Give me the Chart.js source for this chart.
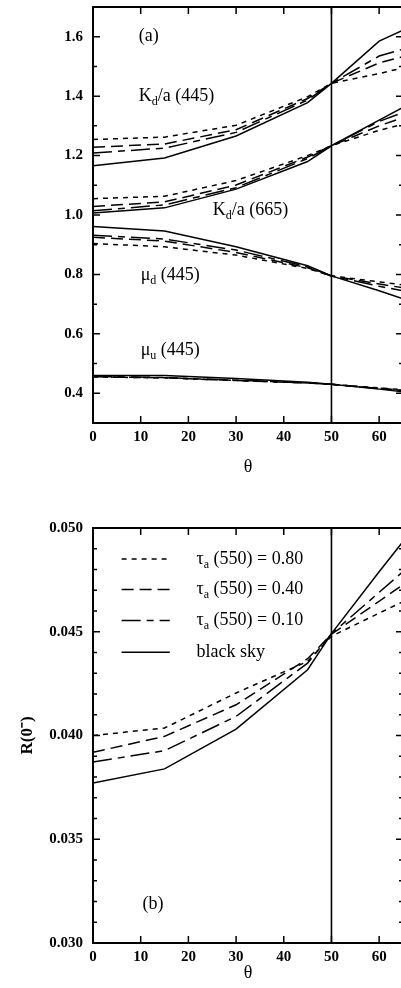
<!DOCTYPE html>
<html>
<head>
<meta charset="utf-8">
<script src="https://cdn.jsdelivr.net/npm/chart.js@4"></script>
<style>
  html, body { margin: 0; padding: 0; background: #fff; overflow: hidden; }
  .panel { position: absolute; left: 0; }
  #panel-a { top: 0; }
  #panel-b { top: 490px; }
</style>
</head>
<body>
<div class="panel" id="panel-a"><canvas id="chart-a" width="420" height="490"></canvas></div>
<div class="panel" id="panel-b"><canvas id="chart-b" width="420" height="498"></canvas></div>
<script>
// --- DATA ---
const ANGLES = [0, 15, 30, 45, 50, 60, 65];          // solar zenith angle θ (deg)
const REF_ANGLE = 50;                                // vertical marker
const TAU_VALUES = ['0.80', '0.40', '0.10'];         // τa(550); fourth case is black sky

// (a) K_d/a at 445 nm
const kd445Tau80 = [1.254, 1.262, 1.302, 1.398, 1.443, 1.476, 1.495];
const kd445Tau40 = [1.228, 1.239, 1.287, 1.392, 1.443, 1.512, 1.533];
const kd445Tau10 = [1.209, 1.225, 1.278, 1.387, 1.443, 1.535, 1.558];
const kd445Black = [1.166, 1.192, 1.266, 1.378, 1.443, 1.585, 1.622];

// (a) K_d/a at 665 nm
const kd665Tau80 = [1.055, 1.063, 1.116, 1.200, 1.233, 1.285, 1.305];
const kd665Tau40 = [1.029, 1.044, 1.101, 1.195, 1.233, 1.300, 1.328];
const kd665Tau10 = [1.014, 1.034, 1.092, 1.190, 1.233, 1.315, 1.345];
const kd665Black = [1.007, 1.024, 1.087, 1.180, 1.233, 1.319, 1.362];

// (a) mu_d at 445 nm
const mud445Tau80 = [0.904, 0.893, 0.865, 0.820, 0.795, 0.775, 0.765];
const mud445Tau40 = [0.925, 0.912, 0.874, 0.822, 0.795, 0.768, 0.755];
const mud445Tau10 = [0.932, 0.919, 0.882, 0.826, 0.795, 0.760, 0.745];
const mud445Black = [0.961, 0.946, 0.893, 0.829, 0.795, 0.745, 0.718];

// (a) mu_u at 445 nm
const muu445Tau80 = [0.455, 0.452, 0.443, 0.435, 0.430, 0.418, 0.412];
const muu445Tau40 = [0.456, 0.452, 0.443, 0.435, 0.430, 0.417, 0.410];
const muu445Tau10 = [0.457, 0.453, 0.444, 0.435, 0.430, 0.416, 0.409];
const muu445Black = [0.460, 0.460, 0.450, 0.437, 0.430, 0.414, 0.405];

// (b) R(0-)
const rTau80 = [0.04000, 0.04036, 0.04205, 0.04357, 0.04478, 0.04590, 0.04645];
const rTau40 = [0.03919, 0.03996, 0.04148, 0.04370, 0.04488, 0.04647, 0.04727];
const rTau10 = [0.03872, 0.03927, 0.04092, 0.04349, 0.04490, 0.04690, 0.04790];
const rBlack = [0.03771, 0.03839, 0.04031, 0.04317, 0.04491, 0.04789, 0.04935];

// axis ticks
const X_TICKS = [0, 10, 20, 30, 40, 50, 60];
const Y_TICKS_A = [0.4, 0.6, 0.8, 1.0, 1.2, 1.4, 1.6];
const Y_MINOR_A = [0.5, 0.7, 0.9, 1.1, 1.3, 1.5];
const Y_TICKS_B = [0.030, 0.035, 0.040, 0.045, 0.050];
const Y_MINOR_B = [0.031, 0.032, 0.033, 0.034, 0.036, 0.037, 0.038, 0.039,
                   0.041, 0.042, 0.043, 0.044, 0.046, 0.047, 0.048, 0.049];

// --- STYLING ---
const FONT = '"Liberation Serif", "Times New Roman", serif';
const DASHES = [[5, 5], [12, 6], [19, 6, 7, 6], []];   // tau 0.80, 0.40, 0.10, black sky

function series(values, k) {
    return {
        data: ANGLES.map((t, i) => ({ x: t, y: values[i] })),
        borderColor: '#000',
        borderWidth: 1.5,
        borderDash: DASHES[k],
        pointRadius: 0,
        fill: false,
        tension: 0
    };
}

// text with subscripts: parts = [[text, isSub], ...]
function drawParts(ctx, x, y, parts, size) {
    let cx = x;
    ctx.textAlign = 'left';
    ctx.textBaseline = 'middle';
    parts.forEach(([text, sub]) => {
        const fs = sub ? Math.round(size * 0.66) : size;
        ctx.font = fs + 'px ' + FONT;
        ctx.fillText(text, cx, sub ? y + size * 0.32 : y);
        cx += ctx.measureText(text).width;
    });
}

// frame, inward tick marks, the θ = 50 marker and the in-plot labels
const decorations = {
    id: 'decorations',
    afterDatasetsDraw(chart, args, opts) {
        const { ctx, chartArea: a, scales: { x, y } } = chart;
        ctx.save();
        ctx.strokeStyle = '#000';
        ctx.fillStyle = '#000';

        ctx.lineWidth = 1.5;
        ctx.beginPath();
        X_TICKS.forEach(v => {
            const px = x.getPixelForValue(v);
            ctx.moveTo(px, a.bottom); ctx.lineTo(px, a.bottom - 7);
            ctx.moveTo(px, a.top); ctx.lineTo(px, a.top + 7);
        });
        opts.yMajor.forEach(v => {
            const py = y.getPixelForValue(v);
            ctx.moveTo(a.left, py); ctx.lineTo(a.left + 7, py);
            ctx.moveTo(a.right, py); ctx.lineTo(a.right - 7, py);
        });
        opts.yMinor.forEach(v => {
            const py = y.getPixelForValue(v);
            ctx.moveTo(a.left, py); ctx.lineTo(a.left + 4, py);
            ctx.moveTo(a.right, py); ctx.lineTo(a.right - 4, py);
        });
        ctx.stroke();

        const rx = x.getPixelForValue(REF_ANGLE);
        ctx.lineWidth = 1.6;
        ctx.beginPath();
        ctx.moveTo(rx, a.top); ctx.lineTo(rx, a.bottom);
        ctx.stroke();

        ctx.lineWidth = 2;
        ctx.strokeRect(a.left, a.top, a.right - a.left, a.bottom - a.top);

        (opts.labels || []).forEach(l => {
            drawParts(ctx, x.getPixelForValue(l.at[0]), y.getPixelForValue(l.at[1]), l.parts, 18);
        });

        if (opts.legend) {
            const lg = opts.legend;
            const x0 = x.getPixelForValue(lg.lineFrom);
            const x1 = x.getPixelForValue(lg.lineTo);
            const xt = x.getPixelForValue(lg.textAt);
            lg.rows.forEach((v, k) => {
                const py = y.getPixelForValue(v);
                ctx.lineWidth = 1.5;
                ctx.setLineDash(DASHES[k]);
                ctx.beginPath();
                ctx.moveTo(x0, py); ctx.lineTo(x1, py);
                ctx.stroke();
                ctx.setLineDash([]);
                const parts = k < TAU_VALUES.length
                    ? [['τ'], ['a', true], [' (550) = ' + TAU_VALUES[k]]]
                    : [['black sky']];
                drawParts(ctx, xt, py, parts, 18);
            });
        }
        ctx.restore();
    }
};

function baseScales(yMin, yMax, yTicks, digits, xHeight, titlePad) {
    return {
        x: {
            type: 'linear', min: 0, max: 65,
            grid: { display: false, drawTicks: false },
            border: { display: false },
            afterBuildTicks: s => { s.ticks = X_TICKS.map(v => ({ value: v })); },
            afterFit: s => { s.height = xHeight; s.paddingLeft = 0; s.paddingRight = 0; },
            ticks: { color: '#000', padding: 5, maxRotation: 0, font: { family: FONT, size: 15, weight: 'bold' } },
            title: { display: true, text: 'θ', color: '#000', padding: { top: 0, bottom: titlePad },
                     font: { family: FONT, size: 18 } }
        },
        y: {
            type: 'linear', min: yMin, max: yMax,
            grid: { display: false, drawTicks: false },
            border: { display: false },
            afterBuildTicks: s => { s.ticks = yTicks.map(v => ({ value: v })); },
            afterFit: s => { s.width = 93; s.paddingTop = 0; s.paddingBottom = 0; },
            ticks: { color: '#000', padding: 10, font: { family: FONT, size: 15, weight: 'bold' },
                     callback: v => Number(v).toFixed(digits) }
        }
    };
}

const common = {
    responsive: false,
    animation: false,
    events: [],
    plugins: { legend: { display: false }, tooltip: { enabled: false } }
};

// --- PANEL (a) ---
const scalesA = baseScales(0.3, 1.7, Y_TICKS_A, 1, 67, 12);
new Chart(document.getElementById('chart-a'), {
    type: 'line',
    data: {
        datasets: [
            series(kd445Tau80, 0), series(kd445Tau40, 1), series(kd445Tau10, 2), series(kd445Black, 3),
            series(kd665Tau80, 0), series(kd665Tau40, 1), series(kd665Tau10, 2), series(kd665Black, 3),
            series(mud445Tau80, 0), series(mud445Tau40, 1), series(mud445Tau10, 2), series(mud445Black, 3),
            series(muu445Tau80, 0), series(muu445Tau40, 1), series(muu445Tau10, 2), series(muu445Black, 3)
        ]
    },
    options: {
        ...common,
        layout: { padding: { top: 7, right: 17, bottom: 0, left: 0 } },
        scales: scalesA,
        plugins: {
            ...common.plugins,
            decorations: {
                yMajor: Y_TICKS_A, yMinor: Y_MINOR_A,
                labels: [
                    { at: [9.6, 1.6], parts: [['(a)']] },
                    { at: [9.6, 1.4], parts: [['K'], ['d', true], ['/a (445)']] },
                    { at: [25.1, 1.016], parts: [['K'], ['d', true], ['/a (665)']] },
                    { at: [10.0, 0.797], parts: [['μ'], ['d', true], [' (445)']] },
                    { at: [10.0, 0.544], parts: [['μ'], ['u', true], [' (445)']] }
                ]
            }
        }
    },
    plugins: [decorations]
});

// --- PANEL (b) ---
const scalesB = baseScales(0.030, 0.050, Y_TICKS_B, 3, 45, 4);
scalesB.y.title = { display: true, text: 'R(0⁻)', color: '#000', padding: { top: 17, bottom: 0 },
                    font: { family: FONT, size: 17, weight: 'bold' } };
new Chart(document.getElementById('chart-b'), {
    type: 'line',
    data: {
        datasets: [series(rTau80, 0), series(rTau40, 1), series(rTau10, 2), series(rBlack, 3)]
    },
    options: {
        ...common,
        layout: { padding: { top: 38, right: 17, bottom: 0, left: 0 } },
        scales: scalesB,
        plugins: {
            ...common.plugins,
            decorations: {
                yMajor: Y_TICKS_B, yMinor: Y_MINOR_B,
                labels: [{ at: [10.4, 0.03189], parts: [['(b)']] }],
                legend: { lineFrom: 6.0, lineTo: 16.1, textAt: 21.7,
                          rows: [0.04851, 0.04704, 0.04554, 0.04401] }
            }
        }
    },
    plugins: [decorations]
});
</script>
</body>
</html>
